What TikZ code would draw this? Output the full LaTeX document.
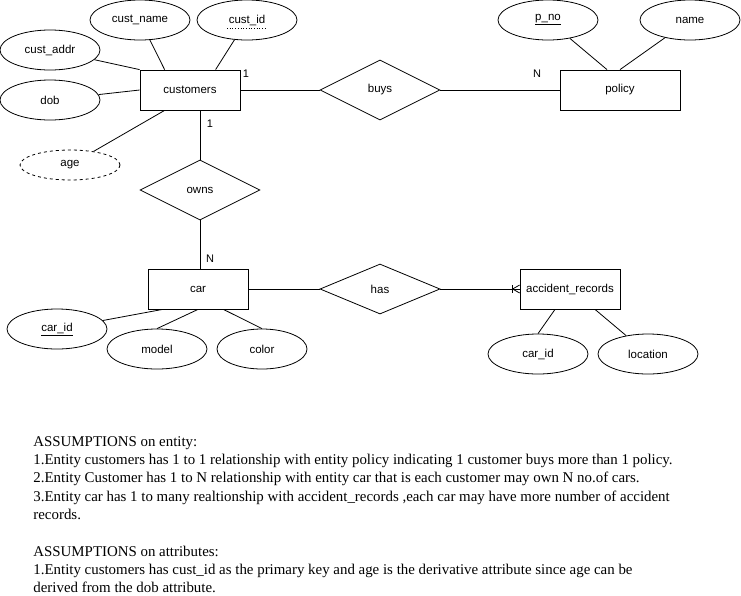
\documentclass[tikz,border=0pt]{standalone}
\usepackage{fontspec}
\usepackage{tikz}
\usetikzlibrary{shapes.geometric}
\setmainfont{Liberation Serif}
\newfontfamily\erfont{Liberation Sans}
\tikzstyle{entity}=[rectangle,draw=black,fill=white,
                    minimum width=100pt,minimum height=40pt,inner sep=0pt]
\tikzstyle{attrib}=[ellipse,draw=black,fill=white,
                    minimum width=100pt,minimum height=40pt,inner sep=0pt]
\tikzstyle{relship}=[diamond,draw=black,fill=white,aspect=2,
                     minimum width=120pt,minimum height=60pt,inner sep=0pt]
\tikzstyle{card}=[inner sep=0pt,font=\erfont\fontsize{11}{13}\selectfont]

\begin{document}
\begin{tikzpicture}[x=1pt,y=-1pt,line width=0.8pt,
    every node/.style={font=\erfont\fontsize{11.5}{13}\selectfont}]
    \useasboundingbox (0,0) rectangle (741,595);
    % entities
    \node (cust) at (190, 90) [entity]{customers};
    \node (pol)  at (620, 90) [entity,minimum width=120pt]{policy};
    \node (car)  at (198,289) [entity]{car};
    \node (acc)  at (570,289) [entity]{accident\_records};
    % relationships
    \node (buys) at (380, 90) [relship]{buys};
    \node (owns) at (200,190) [relship]{owns};
    \node (has)  at (380,289) [relship,minimum height=50pt]{has};
    % attributes
    \node (cname) at (140, 20) [attrib]{cust\_name};
    \node (cid)   at (247, 20) [attrib]{cust\_id};
    \draw[dotted,line width=0.7pt] (cid.center) ++(-20,8) -- ++(40,0);
    \node (caddr) at ( 50, 50) [attrib]{cust\_addr};
    \node (dob)   at ( 50,100) [attrib]{dob};
    \node (age)   at ( 70,165) [attrib,dashed,minimum height=30pt]{age};
    \node (pno)   at (548, 20) [attrib]{\underline{p\_no}};
    \node (pname) at (690, 20) [attrib]{name};
    \node (carid) at ( 57,329) [attrib]{\underline{car\_id}};
    \node (model) at (157,349) [attrib]{model};
    \node (color) at (262,349) [attrib,minimum width=90pt]{color};
    \node (acid)  at (538,354) [attrib]{car\_id};
    \node (loc)   at (648,354) [attrib]{location};
    % end points on the boxes
    \coordinate (ct1) at ([xshift=25pt]cust.north west);
    \coordinate (ct2) at ([xshift=76pt]cust.north west);
    \coordinate (cb1) at ([xshift=25pt]cust.south west);
    \coordinate (cb2) at ([xshift=10pt]cust.south);
    \coordinate (pt1) at ([xshift=-13pt]pol.north);
    \coordinate (rt1) at ([xshift=2pt]car.north);
    \coordinate (rb1) at ([xshift=15pt]car.south west);
    \coordinate (rb2) at ([xshift=-25pt]car.south east);
    \coordinate (ab1) at ([xshift=-15pt]acc.south);
    \coordinate (ab2) at ([xshift=25pt]acc.south);
    % connectors
    \draw (ct1) -- (cname);
    \draw (ct2) -- (cid);
    \draw (caddr) -- (cust.north west);
    \draw (dob) -- (cust.west);
    \draw (age) -- (cb1);
    \draw (cust) -- (buys) -- (pol);
    \draw (pno) -- (pt1);
    \draw (pname) -- (pol.north);
    \draw (cb2) -- (owns.north);
    \draw (owns.south) -- (rt1);
    \draw (carid) -- (rb1);
    \draw (model.north) -- (car.south);
    \draw (color.north) -- (rb2);
    \draw (car) -- (has) -- (acc);
    \draw (acc.west) ++(-7,-4) -- ++(0,8);
    \draw (acc.west) ++(0,-4) -- ++(-7,4) -- ++(7,4);
    \draw (ab1) -- (acid.north);
    \draw (ab2) -- (loc);
    % cardinalities
    \node (c1) at (246, 74) [card]{1};
    \node (c2) at (537, 74) [card]{N};
    \node (c3) at (210,124) [card]{1};
    \node (c4) at (210,259) [card]{N};
    % notes
    \node (notes) at (33,436) [anchor=north west,align=left,inner sep=0pt,
        font=\fontsize{14.9}{18.3}\selectfont]{%
      ASSUMPTIONS on entity:\\
      1.Entity customers has 1 to 1 relationship with entity policy indicating 1 customer buys more than 1 policy.\\
      2.Entity Customer has 1 to N relationship with entity car that is each customer may own N no.of cars.\\
      3.Entity car has 1 to many realtionship with accident\_records ,each car may have more number of accident\\
      records.\\[18.3pt]
      ASSUMPTIONS on attributes:\\
      1.Entity customers has cust\_id as the primary key and age is the derivative attribute since age can be\\
      derived from the dob attribute.};
\end{tikzpicture}
\end{document}
